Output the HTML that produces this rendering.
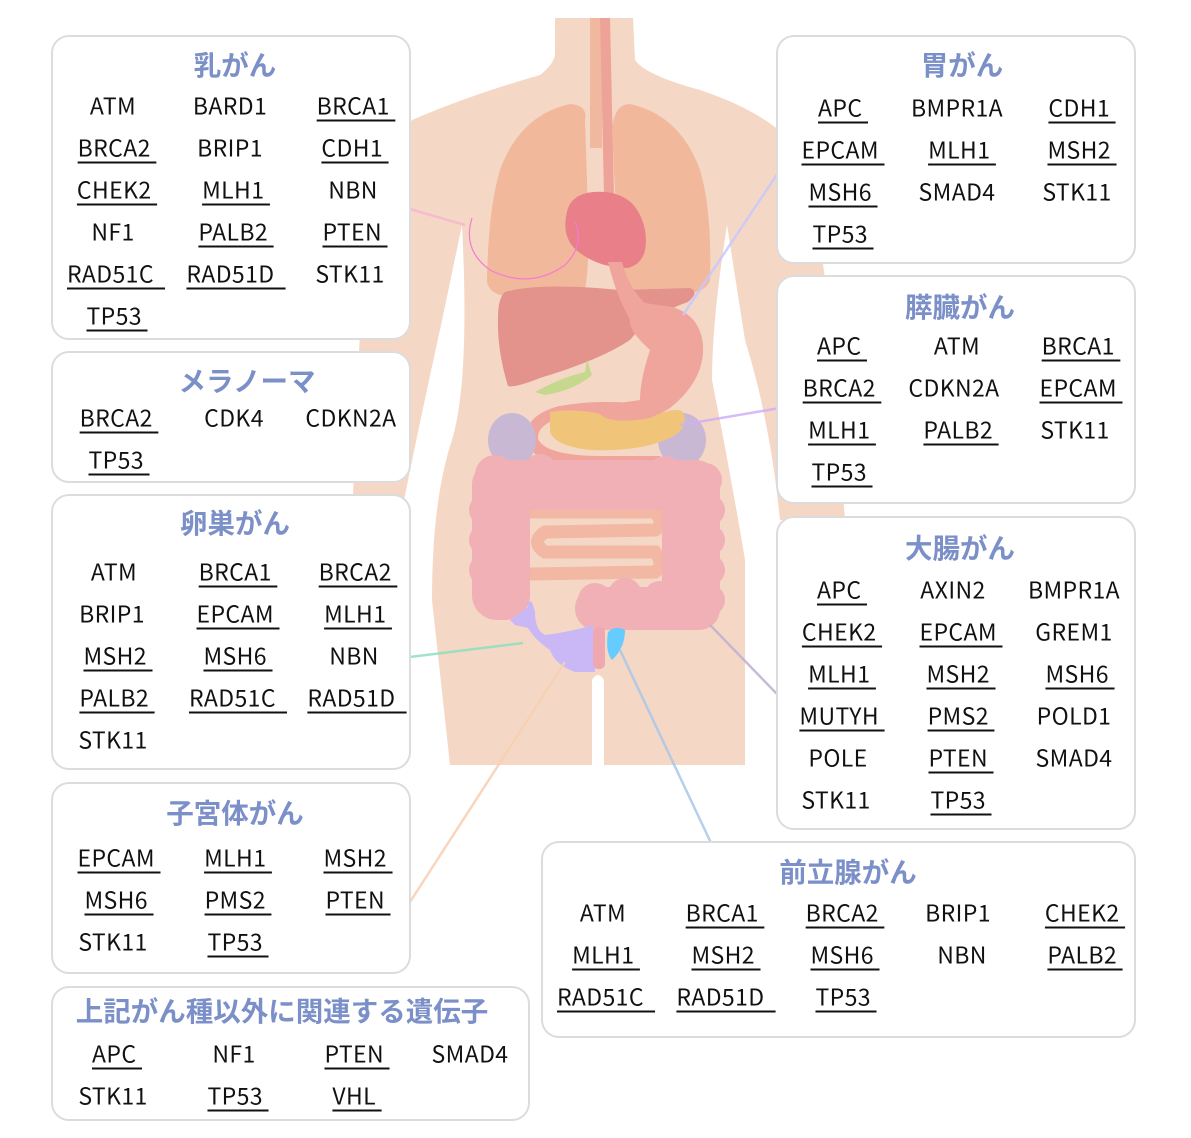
<!DOCTYPE html>
<html><head><meta charset="utf-8">
<style>
html,body{margin:0;padding:0;background:#fff;}
#c{position:relative;width:1191px;height:1138px;overflow:hidden;font-family:"Noto Sans CJK JP","Liberation Sans",sans-serif;}
.b{position:absolute;background:#fff;border:2px solid #dcdcdc;border-radius:18px;box-sizing:border-box;}
.t{position:absolute;transform:translate(-50%,-50%);color:#7b8fc8;font-weight:bold;font-size:27.5px;white-space:nowrap;}
.g{position:absolute;transform:translate(-50%,-50%);font-size:23px;letter-spacing:0.4px;color:#111;white-space:pre;line-height:1;}
.u{text-decoration:underline;text-decoration-thickness:1.5px;text-underline-offset:5px;}
svg{position:absolute;left:0;top:0;}
</style></head><body><div id="c">
<svg width="1191" height="1138" viewBox="0 0 1191 1138">
<path fill="#f5d7c6" d="M555,18 L633,18 L635,60 Q645,75 700,90 Q760,110 790,140 Q820,200 830,330 L845,520 L780,520 Q770,420 745,340 L727,225 Q712,320 712,380 Q730,470 745,560 L745,765 L604,765 L604,680 Q598,670 592,680 L592,765 L450,765 L432,600 Q432,500 452,440 Q470,380 462,225 L440,330 Q420,420 400,520 L352,520 L360,330 Q380,180 412,120 Q470,95 540,75 Q553,65 555,55 Z"/>
<rect x="590" y="18" width="12" height="130" fill="#f0b89e"/>
<path d="M600,18 L610,18 L614,195 L604,195 Z" fill="#eea398"/>
<path fill="#f1b89c" d="M585,120 Q588,105 570,104 Q520,115 500,170 Q488,210 487,282 Q490,298 520,297 L585,290 Q590,260 588,210 Z"/>
<path fill="#f1b89c" d="M612,130 Q614,104 630,104 Q680,115 700,170 Q712,210 710,280 Q705,295 680,292 L620,290 Z"/>
<path fill="#e97f88" d="M568,208 Q575,190 605,192 Q638,195 645,230 Q650,262 628,268 Q598,268 576,250 Q560,235 568,208 Z"/>
<path fill="#e3928c" d="M505,292 Q540,282 620,290 L690,288 Q700,292 688,302 Q650,315 630,340 Q600,360 540,378 Q515,388 508,386 Q497,350 498,318 Q498,298 505,292 Z"/>
<path fill="#efa59c" d="M608,262 L622,262 Q630,290 645,303 L672,307 Q700,315 703,345 Q705,380 670,408 Q640,428 600,425 L570,410 L640,400 Q640,380 650,350 Q628,330 630,320 Q616,295 608,262 Z"/>
<path fill="none" stroke="#efa59c" stroke-width="12" d="M640,410 Q600,405 560,412 Q530,420 532,440 Q540,462 600,462 L660,462"/>
<path fill="#c5d88e" d="M535,392 Q560,378 585,372 L587,360 L592,375 Q575,390 545,395 Z"/>
<ellipse cx="512" cy="440" rx="24" ry="27" fill="#c8b8d4"/>
<ellipse cx="682" cy="440" rx="24" ry="27" fill="#c8b8d4"/>
<path fill="#f0c57a" d="M550,412 Q575,408 600,414 Q610,425 650,418 Q675,406 683,412 Q690,428 670,438 Q640,452 590,450 Q555,446 550,432 Z"/>
<path fill="none" stroke="#f2b8a4" stroke-width="13" d="M530,512 L655,512 Q665,524 655,530 L545,532 Q530,542 545,552 L655,552 Q665,565 655,572 L530,574"/>
<g fill="#f0b0b6">
<rect x="472" y="460" width="58" height="160" rx="25"/>
<rect x="475" y="460" width="245" height="50" rx="25"/>
<rect x="662" y="460" width="58" height="170" rx="25"/>
<rect x="575" y="587" width="145" height="43" rx="21"/>
<circle cx="495" cy="475" r="20"/><circle cx="540" cy="472" r="18"/><circle cx="585" cy="478" r="18"/><circle cx="625" cy="478" r="18"/><circle cx="665" cy="474" r="18"/><circle cx="705" cy="480" r="17"/>
<circle cx="485" cy="510" r="16"/><circle cx="485" cy="540" r="16"/><circle cx="485" cy="570" r="16"/><circle cx="490" cy="600" r="16"/>
<circle cx="710" cy="510" r="15"/><circle cx="710" cy="540" r="15"/><circle cx="710" cy="570" r="15"/><circle cx="710" cy="600" r="15"/>
<circle cx="595" cy="600" r="17"/><circle cx="625" cy="595" r="17"/><circle cx="660" cy="598" r="17"/>
</g>
<path fill="#c9b8f5" d="M528,607 Q525,600 532,602 L535,612 Q535,630 545,635 Q570,632 593,625 L595,672 L575,672 Q555,665 550,650 Q535,640 528,628 L515,625 L510,620 Z"/>
<rect x="593" y="627" width="12" height="42" rx="5" fill="#f0a8b0"/>
<path fill="#66ccff" d="M608,632 Q615,625 625,630 Q625,648 612,660 Q605,652 608,632 Z"/>
<path fill="none" stroke="#f57ad4" stroke-width="1.2" d="M472,218 Q462,250 490,270 Q530,290 565,265 Q585,245 575,222"/>
<g stroke-width="2.5" opacity="0.85">
<line x1="410" y1="209" x2="465" y2="225" stroke="#f6b8d0"/>
<line x1="780" y1="170" x2="683" y2="315" stroke="#c8c8ff"/>
<line x1="780" y1="408" x2="680" y2="425" stroke="#d0b0f8"/>
<line x1="410" y1="657" x2="523" y2="643" stroke="#8fe0c0"/>
<line x1="410" y1="902" x2="565" y2="662" stroke="#f8d0b0"/>
<line x1="778" y1="695" x2="710" y2="625" stroke="#c0b0d0"/>
<line x1="712" y1="845" x2="620" y2="650" stroke="#a8c8e8"/>
</g>
</svg>

<div class="b" style="left:51px;top:35px;width:360px;height:305px"></div>
<div class="t" style="left:235px;top:63px">乳がん</div>
<span class="g" style="left:113px;top:105px">ATM</span><span class="g" style="left:230px;top:105px">BARD1</span><span class="g u" style="left:356px;top:105px">BRCA1 </span>
<span class="g u" style="left:117px;top:147px">BRCA2 </span><span class="g" style="left:230px;top:147px">BRIP1</span><span class="g u" style="left:355px;top:147px">CDH1 </span>
<span class="g u" style="left:117px;top:189px">CHEK2 </span><span class="g u" style="left:236px;top:189px">MLH1 </span><span class="g" style="left:353px;top:189px">NBN</span>
<span class="g" style="left:113px;top:231px">NF1</span><span class="g u" style="left:236px;top:231px">PALB2 </span><span class="g u" style="left:355px;top:231px">PTEN </span>
<span class="g u" style="left:116px;top:273px">RAD51C  </span><span class="g u" style="left:236px;top:273px">RAD51D  </span><span class="g" style="left:350px;top:273px">STK11</span>
<span class="g u" style="left:117px;top:315px">TP53 </span>

<div class="b" style="left:51px;top:351px;width:360px;height:132px"></div>
<div class="t" style="left:247px;top:379px">メラノーマ</div>
<span class="g u" style="left:119px;top:417px">BRCA2 </span><span class="g" style="left:234px;top:417px">CDK4</span><span class="g" style="left:351px;top:417px">CDKN2A</span>
<span class="g u" style="left:119px;top:459px">TP53 </span>

<div class="b" style="left:51px;top:494px;width:360px;height:276px"></div>
<div class="t" style="left:235px;top:521px">卵巣がん</div>
<span class="g" style="left:114px;top:571px">ATM</span><span class="g u" style="left:238px;top:571px">BRCA1 </span><span class="g u" style="left:358px;top:571px">BRCA2 </span>
<span class="g" style="left:112px;top:613px">BRIP1</span><span class="g u" style="left:238px;top:613px">EPCAM </span><span class="g u" style="left:358px;top:613px">MLH1 </span>
<span class="g u" style="left:118px;top:655px">MSH2 </span><span class="g u" style="left:238px;top:655px">MSH6 </span><span class="g" style="left:354px;top:655px">NBN</span>
<span class="g u" style="left:117px;top:697px">PALB2 </span><span class="g u" style="left:238px;top:697px">RAD51C  </span><span class="g u" style="left:357px;top:697px">RAD51D  </span>
<span class="g" style="left:113px;top:739px">STK11</span>

<div class="b" style="left:51px;top:782px;width:360px;height:192px"></div>
<div class="t" style="left:235px;top:811px">子宮体がん</div>
<span class="g u" style="left:119px;top:857px">EPCAM </span><span class="g u" style="left:238px;top:857px">MLH1 </span><span class="g u" style="left:358px;top:857px">MSH2 </span>
<span class="g u" style="left:119px;top:899px">MSH6 </span><span class="g u" style="left:238px;top:899px">PMS2 </span><span class="g u" style="left:358px;top:899px">PTEN </span>
<span class="g" style="left:113px;top:941px">STK11</span><span class="g u" style="left:238px;top:941px">TP53 </span>

<div class="b" style="left:51px;top:986px;width:479px;height:135px"></div>
<div class="t" style="left:282px;top:1009px">上記がん種以外に関連する遺伝子</div>
<span class="g u" style="left:117px;top:1053px">APC </span><span class="g" style="left:234px;top:1053px">NF1</span><span class="g u" style="left:357px;top:1053px">PTEN </span><span class="g" style="left:470px;top:1053px">SMAD4</span>
<span class="g" style="left:113px;top:1095px">STK11</span><span class="g u" style="left:238px;top:1095px">TP53 </span><span class="g u" style="left:357px;top:1095px">VHL </span>

<div class="b" style="left:776px;top:35px;width:360px;height:229px"></div>
<div class="t" style="left:962px;top:63px">胃がん</div>
<span class="g u" style="left:843px;top:107px">APC </span><span class="g" style="left:957px;top:107px">BMPR1A</span><span class="g u" style="left:1082px;top:107px">CDH1 </span>
<span class="g u" style="left:843px;top:149px">EPCAM </span><span class="g u" style="left:962px;top:149px">MLH1 </span><span class="g u" style="left:1082px;top:149px">MSH2 </span>
<span class="g u" style="left:843px;top:191px">MSH6 </span><span class="g" style="left:957px;top:191px">SMAD4</span><span class="g" style="left:1077px;top:191px">STK11</span>
<span class="g u" style="left:843px;top:233px">TP53 </span>

<div class="b" style="left:776px;top:275px;width:360px;height:229px"></div>
<div class="t" style="left:960px;top:305px">膵臓がん</div>
<span class="g u" style="left:842px;top:345px">APC </span><span class="g" style="left:957px;top:345px">ATM</span><span class="g u" style="left:1081px;top:345px">BRCA1 </span>
<span class="g u" style="left:842px;top:387px">BRCA2 </span><span class="g" style="left:954px;top:387px">CDKN2A</span><span class="g u" style="left:1081px;top:387px">EPCAM </span>
<span class="g u" style="left:842px;top:429px">MLH1 </span><span class="g u" style="left:961px;top:429px">PALB2 </span><span class="g" style="left:1075px;top:429px">STK11</span>
<span class="g u" style="left:842px;top:471px">TP53 </span>

<div class="b" style="left:776px;top:516px;width:360px;height:314px"></div>
<div class="t" style="left:960px;top:546px">大腸がん</div>
<span class="g u" style="left:842px;top:589px">APC </span><span class="g" style="left:953px;top:589px">AXIN2</span><span class="g" style="left:1074px;top:589px">BMPR1A</span>
<span class="g u" style="left:842px;top:631px">CHEK2 </span><span class="g u" style="left:961px;top:631px">EPCAM </span><span class="g" style="left:1074px;top:631px">GREM1</span>
<span class="g u" style="left:842px;top:673px">MLH1 </span><span class="g u" style="left:961px;top:673px">MSH2 </span><span class="g u" style="left:1080px;top:673px">MSH6 </span>
<span class="g u" style="left:842px;top:715px">MUTYH </span><span class="g u" style="left:961px;top:715px">PMS2 </span><span class="g" style="left:1074px;top:715px">POLD1</span>
<span class="g" style="left:838px;top:757px">POLE</span><span class="g u" style="left:961px;top:757px">PTEN </span><span class="g" style="left:1074px;top:757px">SMAD4</span>
<span class="g" style="left:836px;top:799px">STK11</span><span class="g u" style="left:961px;top:799px">TP53 </span>

<div class="b" style="left:541px;top:841px;width:595px;height:197px"></div>
<div class="t" style="left:848px;top:870px">前立腺がん</div>
<span class="g" style="left:603px;top:912px">ATM</span><span class="g u" style="left:725px;top:912px">BRCA1 </span><span class="g u" style="left:845px;top:912px">BRCA2 </span><span class="g" style="left:958px;top:912px">BRIP1</span><span class="g u" style="left:1085px;top:912px">CHEK2 </span>
<span class="g u" style="left:606px;top:954px">MLH1 </span><span class="g u" style="left:726px;top:954px">MSH2 </span><span class="g u" style="left:845px;top:954px">MSH6 </span><span class="g" style="left:962px;top:954px">NBN</span><span class="g u" style="left:1085px;top:954px">PALB2 </span>
<span class="g u" style="left:606px;top:996px">RAD51C  </span><span class="g u" style="left:726px;top:996px">RAD51D  </span><span class="g u" style="left:846px;top:996px">TP53 </span>
</div></body></html>
